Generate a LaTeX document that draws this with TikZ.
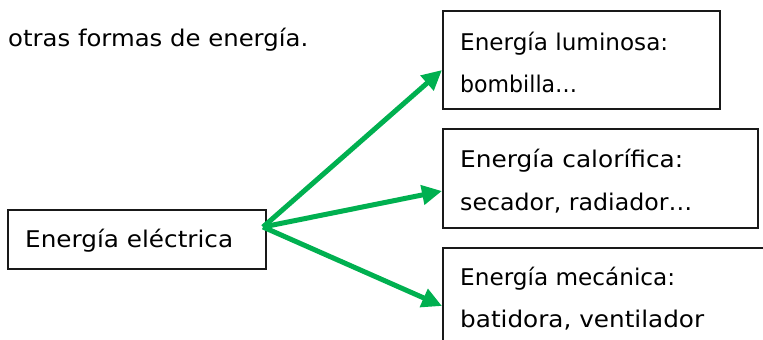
\documentclass[tikz,border=0pt]{standalone}
\usepackage{fontspec}
\setmainfont{DejaVu Sans}
\usetikzlibrary{arrows.meta,calc}
\definecolor{arrowgreen}{HTML}{00B050}
\newcommand{\fitw}[2]{\resizebox{#1pt}{\height}{#2}}
\tikzset{
  box/.style={draw=black!90, line width=1.8pt, rectangle, inner sep=0pt, anchor=north west},
  txt/.style={anchor=base west, inner sep=0pt, font=\fontsize{23}{23}\selectfont},
  conn/.style={draw=arrowgreen, line width=5pt, -{Triangle[length=20pt,width=19pt]}}
}
\begin{document}
\begin{tikzpicture}[x=1pt,y=-1pt]
\useasboundingbox (0,0) rectangle (763,340);
\clip (0,0) rectangle (763,340);
% boxes
\node[box, minimum width=258pt, minimum height=59pt] (le) at (7,209) {};
\node[box, minimum width=277pt, minimum height=98pt] (b1) at (442,10) {};
\node[box, minimum width=315pt, minimum height=99pt] (b2) at (442,128) {};
\node[box, minimum width=340pt, minimum height=110pt] (b3) at (442,247) {};
% texts
\node[txt] (t0) at (8,46) {\fitw{300}{otras formas de energía.}};
\node[txt] (tl) at (25,247) {\fitw{208}{Energía eléctrica}};
\node[txt] (t1a) at (460,50) {\fitw{208}{Energía luminosa:}};
\node[txt] (t1b) at (460,92) {\fitw{117}{bombilla…}};
\node[txt] (t2a) at (460,167) {\fitw{223}{Energía calorífica:}};
\node[txt] (t2b) at (460,210) {\fitw{232}{secador, radiador…}};
\node[txt] (t3a) at (460,285) {\fitw{215}{Energía mecánica:}};
\node[txt] (t3b) at (460,327) {\fitw{244}{batidora, ventilador}};
% connectors
\coordinate (o) at (263,227);
\coordinate (e1) at (442,70);
\coordinate (e2) at (442,191);
\coordinate (e3) at (442,306);
\draw[conn] (o) -- (e1);
\draw[conn] (o) -- (e2);
\draw[conn] (o) -- (e3);
\end{tikzpicture}
\end{document}
